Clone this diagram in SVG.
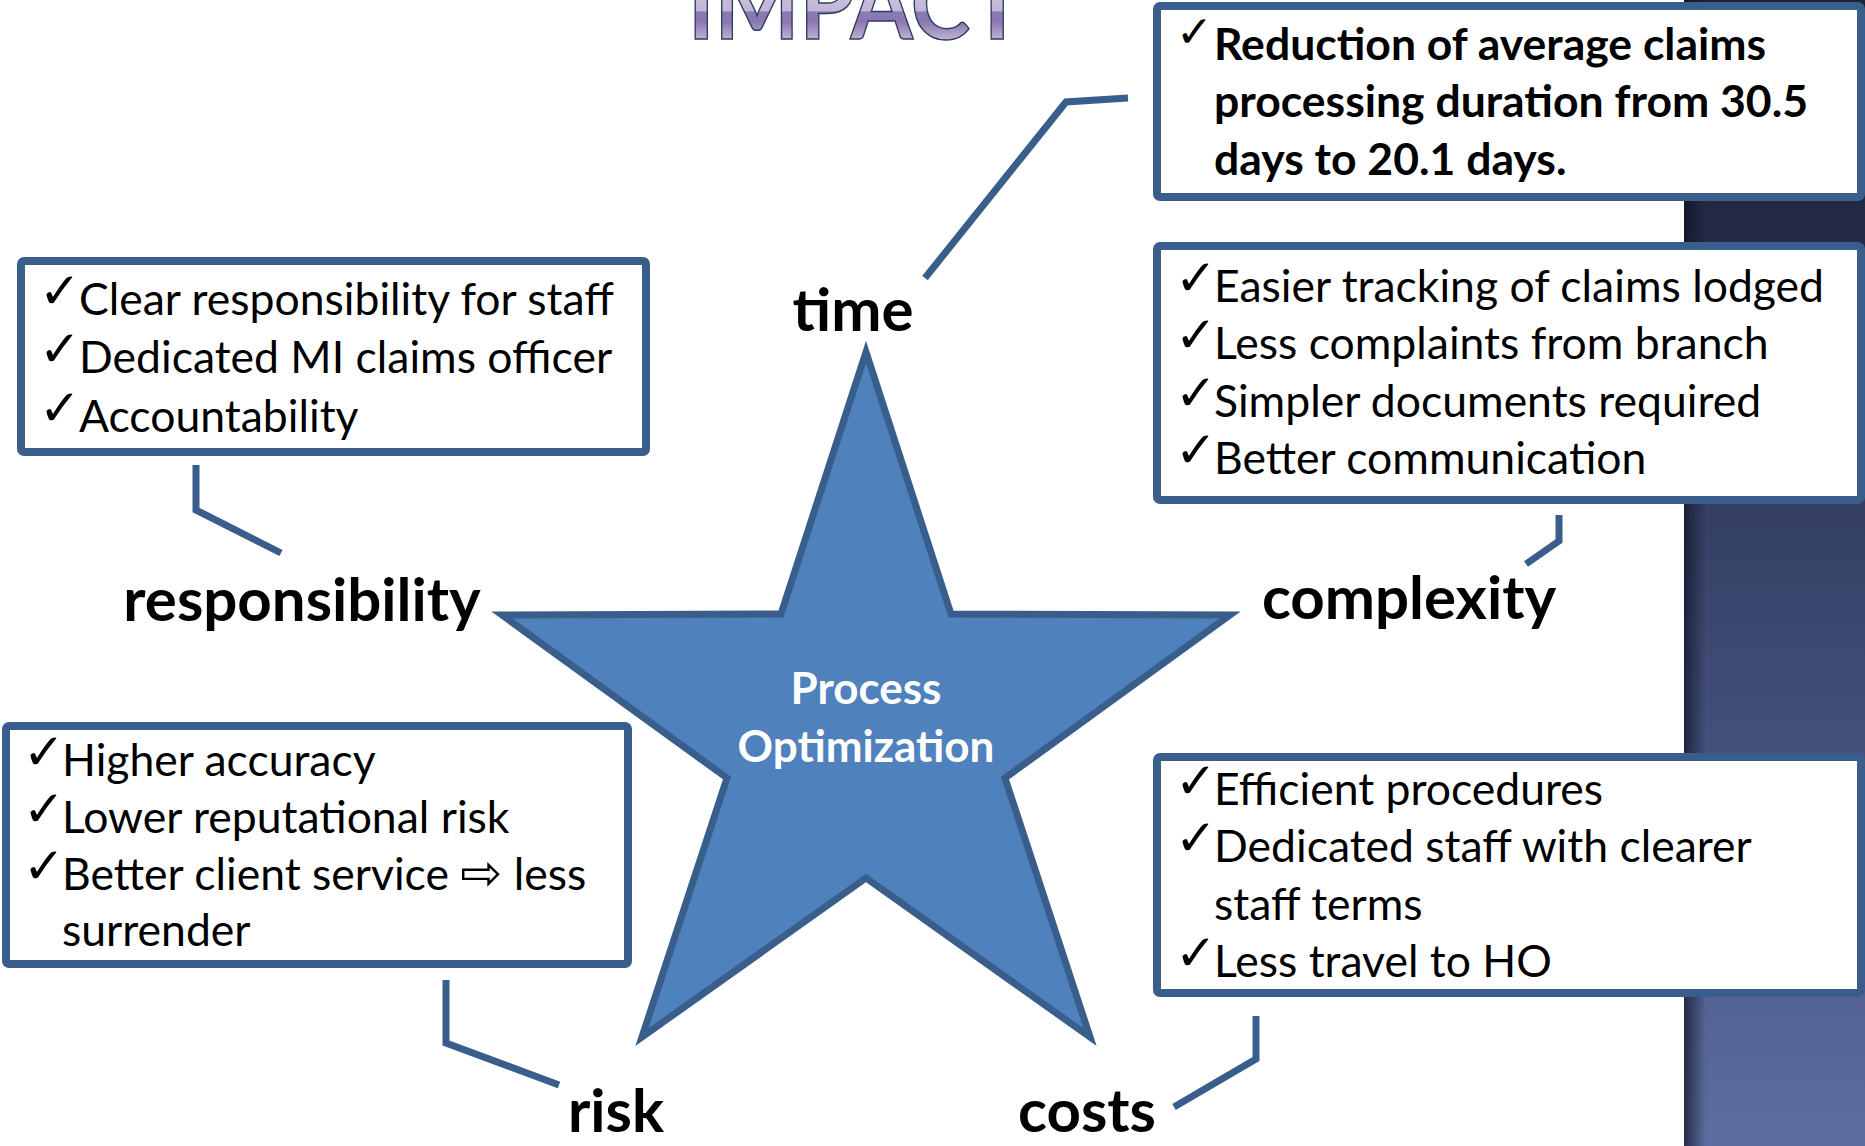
<svg xmlns="http://www.w3.org/2000/svg" width="1865" height="1146" viewBox="0 0 1865 1146">
  <defs>
    <linearGradient id="panelFill" x1="0" y1="0" x2="0" y2="1">
      <stop offset="0" stop-color="#1c2238"/>
      <stop offset="0.2" stop-color="#222a45"/>
      <stop offset="0.55" stop-color="#3c4870"/>
      <stop offset="1" stop-color="#5c6da0"/>
    </linearGradient>
    <linearGradient id="panelEdge" x1="0" y1="0" x2="1" y2="0">
      <stop offset="0" stop-color="#0e1222" stop-opacity="0.7"/>
      <stop offset="1" stop-color="#0e1222" stop-opacity="0"/>
    </linearGradient>
    <linearGradient id="titleFill" gradientUnits="userSpaceOnUse" x1="0" y1="-32" x2="0" y2="39">
      <stop offset="0" stop-color="#d2c9e2"/>
      <stop offset="0.6" stop-color="#c3b7d8"/>
      <stop offset="0.62" stop-color="#8d79b4"/>
      <stop offset="0.75" stop-color="#8a76b0"/>
      <stop offset="1" stop-color="#beb1d4"/>
    </linearGradient>
    <style>
      .box { fill: #ffffff; stroke: #3a5e8c; stroke-width: 8; }
      .link { fill: none; stroke: #3a5e8c; stroke-width: 7; }
      .item { font-family: Lato, "Open Sans", sans-serif; font-size: 44.5px; fill: #000000; }
      .itemBold { font-family: Lato, "Open Sans", sans-serif; font-size: 44.5px; font-weight: bold; fill: #000000; }
      .tick { font-family: "DejaVu Sans", sans-serif; font-size: 50px; fill: #000000; }
      .tickSmall { font-family: "DejaVu Sans", sans-serif; font-size: 44px; fill: #000000; }
      .label { font-family: Lato, "Open Sans", sans-serif; font-size: 60px; font-weight: bold; fill: #000000; text-anchor: middle; }
      .core { font-family: Lato, "Open Sans", sans-serif; font-size: 44px; font-weight: bold; fill: #ffffff; text-anchor: middle; }
    </style>
  </defs>

  <!-- decorative side panel -->
  <rect x="1684" y="0" width="181" height="1146" fill="url(#panelFill)"/>
  <rect x="1684" y="0" width="22" height="1146" fill="url(#panelEdge)"/>

  <!-- heading, partly above the top edge -->
  <text x="688" y="39" font-family="Lato, 'Open Sans', sans-serif" font-size="100" font-weight="bold" textLength="336" lengthAdjust="spacingAndGlyphs" fill="url(#titleFill)" stroke="#2c3d5e" stroke-width="1.5">IMPACT</text>

  <!-- connectors from the star labels to their boxes -->
  <g id="connectors">
    <polyline class="link" points="925,278 1066,102 1128,98"/>
    <polyline class="link" points="196,465 196,510 281,553"/>
    <polyline class="link" points="1559,515 1559,541 1526,564"/>
    <polyline class="link" points="446,980 446,1043 559,1085"/>
    <polyline class="link" points="1256,1016 1256,1059 1174,1107"/>
  </g>

  <!-- central star -->
  <g id="star">
    <polygon points="866,352 951,614 1230,615 1005,778 1090,1037 866,878 642,1037 727,778 502,615 781,614" fill="#4f81bd" stroke="#3a5e8c" stroke-width="7" stroke-linejoin="miter"/>
    <text class="core" x="866" y="704">Process</text>
    <text class="core" x="866" y="762">Optimization</text>
  </g>

  <!-- labels around the star -->
  <g id="label-time"><text class="label" x="853" y="331">time</text></g>
  <g id="label-responsibility"><text class="label" x="302" y="621">responsibility</text></g>
  <g id="label-complexity"><text class="label" x="1409" y="619">complexity</text></g>
  <g id="label-risk"><text class="label" x="616" y="1132">risk</text></g>
  <g id="label-costs"><text class="label" x="1087" y="1132">costs</text></g>

  <!-- time box -->
  <g id="box-time">
    <rect class="box" x="1157" y="6" width="704" height="191" rx="3"/>
    <text class="tickSmall" x="1176" y="47">✓</text>
    <text class="itemBold" x="1214" y="60">Reduction of average claims</text>
    <text class="itemBold" x="1214" y="117">processing duration from 30.5</text>
    <text class="itemBold" x="1214" y="175">days to 20.1 days.</text>
  </g>

  <!-- complexity box -->
  <g id="box-complexity">
    <rect class="box" x="1157" y="246" width="704" height="254" rx="3"/>
    <text class="tick" x="1175" y="295">✓</text>
    <text class="item" x="1214" y="302">Easier tracking of claims lodged</text>
    <text class="tick" x="1175" y="352">✓</text>
    <text class="item" x="1214" y="359">Less complaints from branch</text>
    <text class="tick" x="1175" y="410">✓</text>
    <text class="item" x="1214" y="417">Simpler documents required</text>
    <text class="tick" x="1175" y="467">✓</text>
    <text class="item" x="1214" y="474">Better communication</text>
  </g>

  <!-- costs box -->
  <g id="box-costs">
    <rect class="box" x="1157" y="757" width="704" height="236" rx="3"/>
    <text class="tick" x="1175" y="798">✓</text>
    <text class="item" x="1214" y="805">Efficient procedures</text>
    <text class="tick" x="1175" y="855">✓</text>
    <text class="item" x="1214" y="862">Dedicated staff with clearer</text>
    <text class="item" x="1214" y="920">staff terms</text>
    <text class="tick" x="1175" y="970">✓</text>
    <text class="item" x="1214" y="977">Less travel to HO</text>
  </g>

  <!-- responsibility box -->
  <g id="box-responsibility">
    <rect class="box" x="21" y="261" width="625" height="191" rx="3"/>
    <text class="tick" x="39" y="308">✓</text>
    <text class="item" x="79" y="315">Clear responsibility for staff</text>
    <text class="tick" x="39" y="366">✓</text>
    <text class="item" x="79" y="373">Dedicated MI claims officer</text>
    <text class="tick" x="39" y="425">✓</text>
    <text class="item" x="79" y="432">Accountability</text>
  </g>

  <!-- risk box -->
  <g id="box-risk">
    <rect class="box" x="6" y="726" width="622" height="238" rx="3"/>
    <text class="tick" x="23" y="769">✓</text>
    <text class="item" x="62" y="776">Higher accuracy</text>
    <text class="tick" x="23" y="826">✓</text>
    <text class="item" x="62" y="833">Lower reputational risk</text>
    <text class="tick" x="23" y="883">✓</text>
    <text class="item" x="62" y="890">Better client service <tspan font-family="'DejaVu Sans', sans-serif" font-size="50">⇨</tspan> less</text>
    <text class="item" x="62" y="946">surrender</text>
  </g>
</svg>
